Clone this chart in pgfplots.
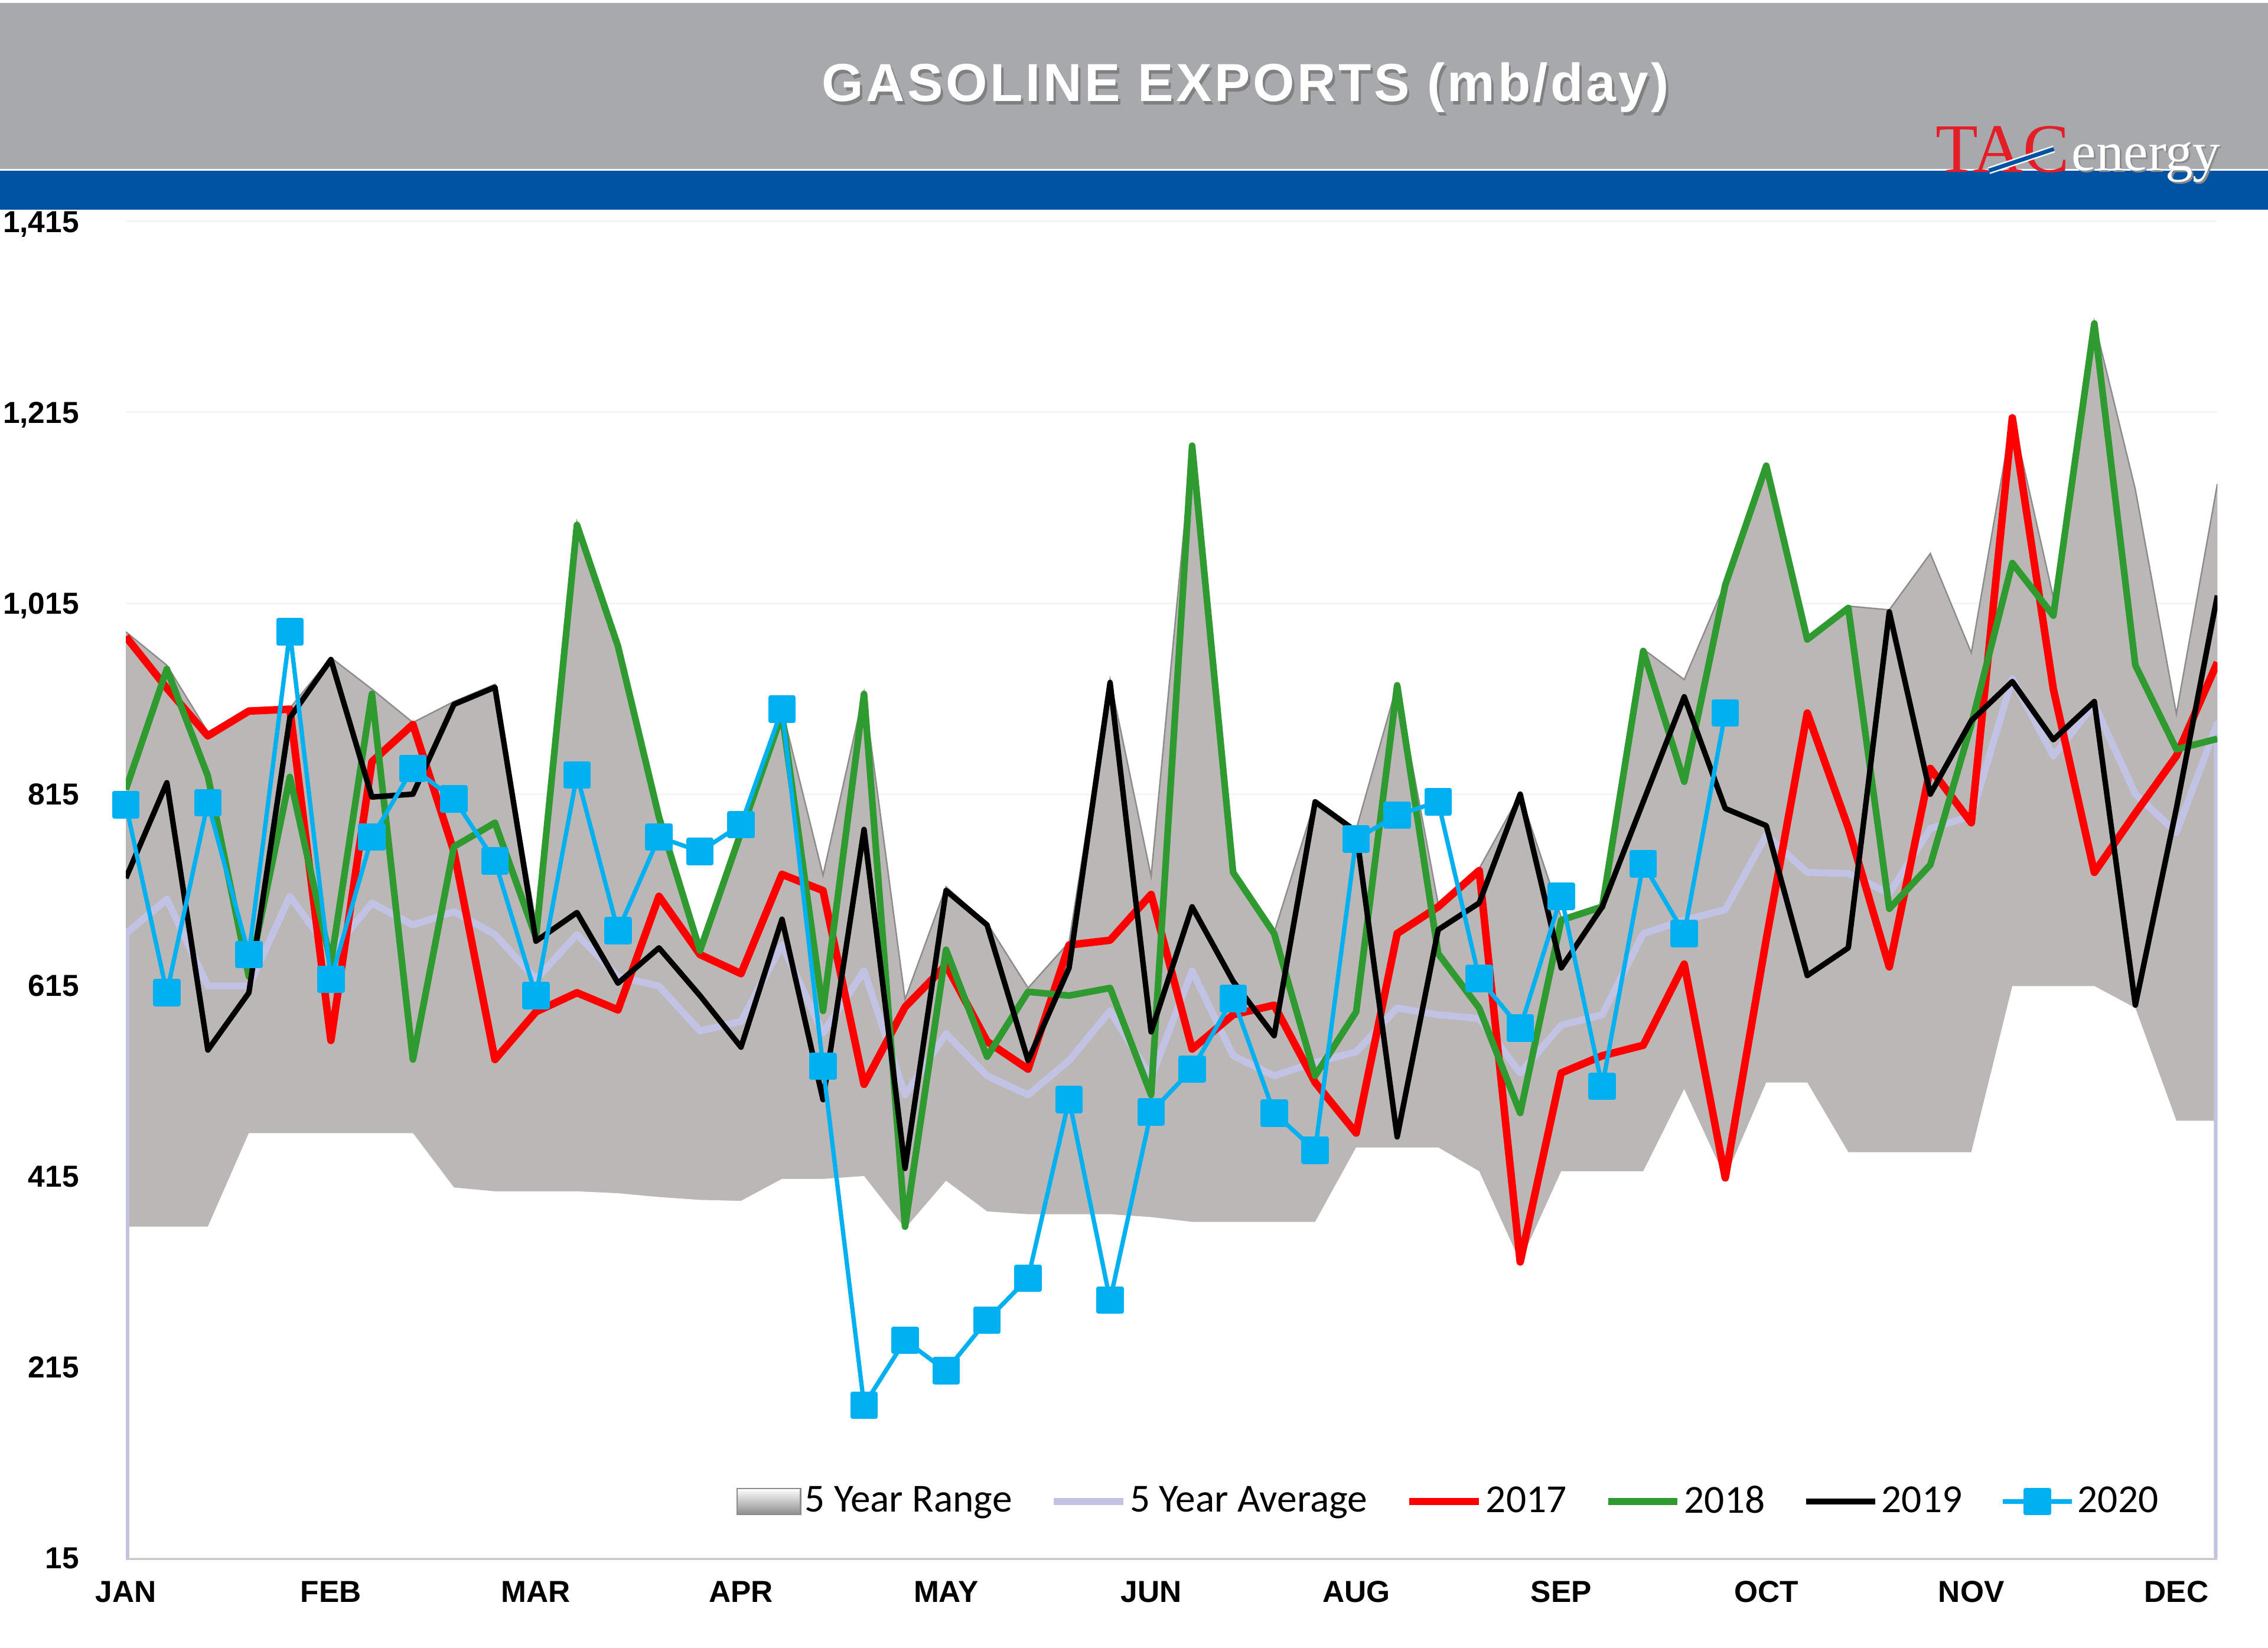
\documentclass[border=0pt]{standalone}
\usepackage{fontspec}
\setmainfont{Liberation Sans}
\newfontfamily\carlito{Carlito}
\newfontfamily\titlefont{Liberation Sans}[LetterSpace=5]
\newfontfamily\logofont{Liberation Serif}
\usepackage{pgfplots}
\usepackage{pgfplotstable}
\pgfplotsset{compat=1.18}

\definecolor{hdrgray}{RGB}{167,169,172}
\definecolor{hdrblue}{RGB}{0,82,163}
\definecolor{rangegray}{RGB}{187,183,182}
\definecolor{avgcol}{RGB}{194,194,228}
\definecolor{c17}{RGB}{255,0,0}
\definecolor{c18}{RGB}{47,154,47}
\definecolor{c20}{RGB}{0,176,240}
\definecolor{logored}{RGB}{228,30,38}

\pgfplotstableread{
w up lo y17 y18 y19
0 985 362 980 820 727
1 950 362 926 946 827
2 880 362 876 834 547
3 905 460 902 624 607
4 905 460 904 833 895
5 958 460 557 638 956
6 925 460 849 920 812
7 890 460 888 537 815
8 912 403 755 760 909
9 930 399 537 785 927
10 680 399 587 665 661
11 1100 399 607 1097 691
12 972 397 589 970 617
13 795 393 708 791 654
14 660 390 647 651 604
15 780 389 627 775 550
16 904 412 731 899 684
17 730 412 714 588 495
18 922 415 511 920 778
19 600 360 592 362 423
20 718 410 636 652 714
21 680 378 556 540 678
22 612 375 527 608 536
23 660 375 657 604 633
24 935 375 662 612 932
25 729 372 710 500 566
26 1182 367 548 1180 697
27 735 367 584 733 619
28 670 367 594 669 562
29 808 367 513 520 807
30 778 445 460 587 776
31 930 445 669 929 456
32 700 445 697 648 673
33 737 420 735 591 701
34 815 325 325 481 815
35 686 420 523 683 633
36 700 420 541 697 697
37 967 420 552 965 807
38 935 506 637 828 917
39 1036 413 413 1034 800
40 1160 513 663 1159 782
41 980 513 900 977 625
42 1012 440 780 1010 654
43 1008 440 634 695 1006
44 1067 440 842 741 815
45 963 440 785 888 892
46 1211 614 1209 1057 933
47 1021 614 925 1002 872
48 1310 614 733 1308 912
49 1134 591 795 950 594
50 899 473 855 862 800
51 1140 473 953 873 1023
}\maindata

\pgfplotstableread{
w v
0 15
0 669
1 705
2 614
3 614
4 708
5 649
6 701
7 678
8 692
9 668
10 621
11 668
12 624
13 614
14 567
15 577
16 657
17 565
18 630
19 500
20 564
21 520
22 500
23 536
24 588
25 518
26 630
27 541
28 520
29 534
30 545
31 591
32 584
33 580
34 523
35 573
36 584
37 669
38 683
39 694
40 772
41 733
42 732
43 711
44 779
45 792
46 936
47 855
48 909
49 815
50 775
51 889
51 15
}\avgdata

\pgfplotstableread{
w v
0 804
1 607
2 806
3 647
4 985
5 621
6 770
7 842
8 810
9 745
10 604
11 835
12 672
13 770
14 755
15 783
16 904
17 530
18 175
19 243
20 211
21 264
22 308
23 495
24 285
25 482
26 527
27 601
28 481
29 442
30 768
31 793
32 807
33 622
34 570
35 708
36 509
37 742
38 669
39 900
}\dataXX

\begin{document}
\begin{tikzpicture}
\fill[white] (0,0) rectangle (784pt,569.5pt);
\fill[hdrgray] (0,511pt) rectangle (784pt,568.5pt);
\fill[hdrblue] (0,497pt) rectangle (784pt,510.5pt);
\node[text=black!50, inner sep=0pt] at (431.3pt,538.1pt) {\titlefont\bfseries\fontsize{18.5}{20}\selectfont GASOLINE EXPORTS (mb/day)};
\node[text=white, inner sep=0pt] at (430.5pt,539.25pt) {\titlefont\bfseries\fontsize{18.5}{20}\selectfont GASOLINE EXPORTS (mb/day)};
\node[anchor=base west, inner sep=0pt, text=logored] at (669pt,510pt) {\logofont\fontsize{24}{24}\selectfont TAC};
\draw[white, line width=2.4pt] (687.5pt,510.5pt) -- (710pt,518pt);
\draw[hdrblue, line width=1.4pt] (687.5pt,510.5pt) -- (710pt,518pt);
\node[anchor=base west, inner sep=0pt, text=black!45] at (716.6pt,510pt) {\logofont\fontsize{19}{19}\selectfont energy};
\node[anchor=base west, inner sep=0pt, text=white] at (716pt,510.6pt) {\logofont\fontsize{19}{19}\selectfont energy};
\begin{axis}[
  at={(43.5pt,31pt)}, anchor=south west,
  scale only axis, width=723pt, height=462pt,
  xmin=0, xmax=51, ymin=15, ymax=1415,
  axis x line*=bottom, axis y line*=left,
  x axis line style={draw=black!22, line width=1.6pt, -},
  y axis line style={draw=none, -},
  xtick={0,5,...,50},
  xticklabels={JAN,FEB,MAR,APR,MAY,JUN,AUG,SEP,OCT,NOV,DEC},
  ytick={15,215,415,615,815,1015,1215,1415},
  yticklabels={15,215,415,615,815,{1,015},{1,215},{1,415}},
  major tick length=0pt,
  tick label style={font=\bfseries\fontsize{10.5}{12}\selectfont},
  xticklabel style={anchor=base, inner sep=0pt, yshift=-15.3pt},
  yticklabel style={anchor=base east, inner sep=0pt, xshift=-16pt, yshift=-3.75pt},
  ymajorgrids, major grid style={draw=black!4, line width=0.6pt},
  legend columns=6,
  legend image code/.code={\draw[mark repeat=2,mark phase=2,#1] plot coordinates {(0pt,0pt) (12pt,0pt) (24pt,0pt)};},
  legend style={draw=none, fill=none, at={(0.9737,0.0422)}, anchor=east, inner sep=0pt,
    font=\carlito\fontsize{13.75}{16}\selectfont,
    nodes={inner sep=1.2pt},
    /tikz/every even column/.append style={column sep=12pt}},
]
\addplot[fill=rangegray, draw=none,
  legend image code/.code={\shade[top color=white, bottom color=black!45, draw=black!45, line width=0.5pt] (0pt,-4.5pt) rectangle (22pt,4.5pt);}]
  table[x=w,y=up]{\maindata} \closedcycle;
\addlegendentry{5 Year Range}
\addplot[fill=white, draw=none, forget plot] table[x=w,y=lo]{\maindata} \closedcycle;
\addplot[draw=black!45, line width=0.5pt, forget plot] table[x=w,y=up]{\maindata};
\addplot[avgcol, line width=2.4pt, line join=round] table[x=w,y=v]{\avgdata};
\addlegendentry{5 Year Average}
\addplot[c17, line width=2.6pt, line join=round] table[x=w,y=y17]{\maindata};
\addlegendentry{2017}
\addplot[c18, line width=2.3pt, line join=round] table[x=w,y=y18]{\maindata};
\addlegendentry{2018}
\addplot[black, line width=1.9pt, line join=round] table[x=w,y=y19]{\maindata};
\addlegendentry{2019}
\addplot[c20, line width=1.5pt, line join=round, mark=square*, mark size=4pt, mark options={solid, fill=c20, draw=c20}] table[x=w,y=v]{\dataXX};
\addlegendentry{2020}
\end{axis}
\end{tikzpicture}
\end{document}
